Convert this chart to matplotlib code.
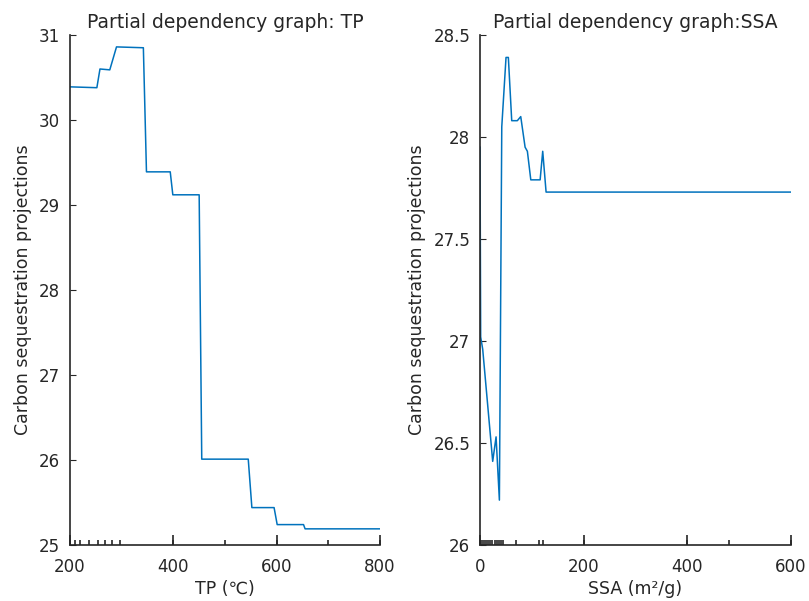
import numpy as np
import matplotlib
matplotlib.use("Agg")
import matplotlib.pyplot as plt

plt.rcParams['font.family'] = ['DejaVu Sans']

# || Partial dependence: TP
tp_x = [200, 252, 258, 277, 290, 342, 348, 394, 399, 450, 455, 545, 552, 595, 601, 652, 655, 800]
tp_y = [30.39, 30.38, 30.60, 30.59, 30.86, 30.85, 29.39, 29.39, 29.12, 29.12,
        26.01, 26.01, 25.44, 25.44, 25.24, 25.24, 25.19, 25.19]
tp_rug = [200, 210, 220, 237, 255, 268, 282, 297, 400, 500, 600, 700, 800]
tp_ticks = [200, 400, 600, 800]
tp_yticks = [25, 26, 27, 28, 29, 30, 31]

# || Partial dependence: SSA
ssa_x = [0, 1.3, 5.2, 24.5, 31, 37.4, 42, 50.2, 54.7, 61.2, 72, 78.6, 87, 91.4,
         98, 116, 121, 127.5, 600]
ssa_y = [27.95, 27.02, 26.96, 26.41, 26.53, 26.22, 28.05, 28.39, 28.39, 28.08,
         28.08, 28.10, 27.95, 27.93, 27.79, 27.79, 27.93, 27.73, 27.73]
ssa_rug = [0, 4, 8, 12, 16, 20, 24, 28, 32, 36, 40, 45, 70, 114, 122, 200, 400, 480, 600]
ssa_ticks = [0, 200, 400, 600]
ssa_yticks = [26, 26.5, 27, 27.5, 28, 28.5]

line_color = '#0072BD'
axis_color = '#262626'

fig = plt.figure(figsize=(8.09, 6.01), dpi=100)
ax1 = fig.add_axes([70 / 809, 56 / 601, 310 / 809, 510 / 601])
ax2 = fig.add_axes([480 / 809, 56 / 601, 311 / 809, 510 / 601])


def style_axes(ax, xlim, ylim, xticks, yticks, rug, title, xlabel):
    ax.set_xlim(*xlim)
    ax.set_ylim(*ylim)
    ax.set_xticks(xticks)
    ax.set_yticks(yticks)
    ax.set_yticklabels([f'{v:g}' for v in yticks])
    for s in ['top', 'right']:
        ax.spines[s].set_visible(False)
    for s in ['left', 'bottom']:
        ax.spines[s].set_color(axis_color)
        ax.spines[s].set_linewidth(1.2)
    ax.tick_params(direction='in', width=1.2, colors=axis_color, labelsize=12)
    ax.tick_params(axis='x', length=7, pad=9)
    ax.tick_params(axis='y', length=4, width=0.8, pad=7)
    # rug of observed values along x
    ax.vlines(rug, 0, 0.009, transform=ax.get_xaxis_transform(),
              color=axis_color, linewidth=1.2, clip_on=False)
    ax.set_title(title, fontsize=13.5, color=axis_color, pad=5)
    ax.set_xlabel(xlabel, fontsize=12.5, color=axis_color, labelpad=3)
    ax.set_ylabel('Carbon sequestration projections', fontsize=12.5,
                  color=axis_color, labelpad=5)


ax1.plot(tp_x, tp_y, color=line_color, linewidth=1.1)
style_axes(ax1, (200, 800), (25, 31), tp_ticks, tp_yticks, tp_rug,
           'Partial dependency graph: TP', 'TP (℃)')

ax2.plot(ssa_x, ssa_y, color=line_color, linewidth=1.1)
style_axes(ax2, (0, 600), (26, 28.5), ssa_ticks, ssa_yticks, ssa_rug,
           'Partial dependency graph:SSA', 'SSA (m²/g)')

fig.savefig('out.png', dpi=100)
